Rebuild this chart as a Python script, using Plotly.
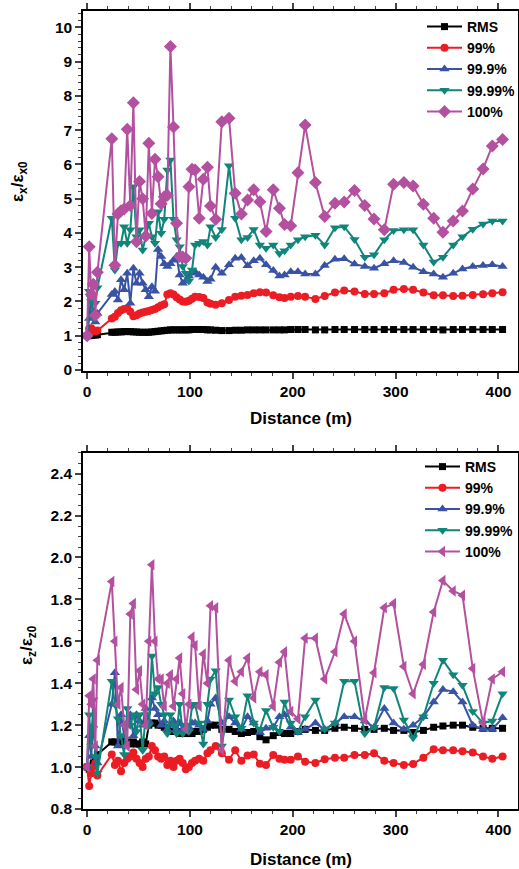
import plotly.graph_objects as go

# ---------------- data ----------------
DISTANCE = [0, 2, 4, 6, 8, 10,
            24, 27, 30, 33, 36, 39, 42, 45, 48, 51, 54, 57, 60, 63, 66, 69, 72, 75, 78, 81, 84, 87, 90, 93, 96, 99, 102,
            105, 109, 113, 117, 120, 125, 131, 138, 144, 150, 156, 162, 168, 174, 181, 187, 192, 198, 205,
            212, 222, 231, 241, 250, 260, 270, 279, 289, 298, 308, 317, 327, 337, 346, 356, 365, 375, 385, 394, 404]

SERIES_NAMES = ["RMS", "99%", "99.9%", "99.99%", "100%"]

# horizontal emittance growth  eps_x / eps_x0
EX_RMS = [1.00, 1.00, 1.01, 1.02, 1.02, 1.03,
          1.10, 1.10, 1.11, 1.11, 1.12, 1.12, 1.12, 1.11, 1.11, 1.10, 1.10, 1.10, 1.10, 1.11, 1.12, 1.13, 1.14, 1.15, 1.16, 1.17, 1.17, 1.17, 1.17, 1.17, 1.17, 1.17, 1.18,
          1.18, 1.18, 1.18, 1.17, 1.17, 1.16, 1.15, 1.15, 1.16, 1.16, 1.17, 1.17, 1.17, 1.17, 1.17, 1.17, 1.17, 1.18, 1.18,
          1.18, 1.17, 1.17, 1.18, 1.18, 1.18, 1.18, 1.18, 1.18, 1.18, 1.18, 1.18, 1.18, 1.18, 1.17, 1.18, 1.18, 1.18, 1.18, 1.18, 1.18]
EX_P99 = [1.00, 1.20, 1.22, 1.15, 1.12, 1.15,
          1.50, 1.55, 1.66, 1.74, 1.78, 1.80, 1.70, 1.57, 1.60, 1.65, 1.68, 1.70, 1.72, 1.75, 1.78, 1.83, 1.88, 1.92, 2.20, 2.24, 2.20, 2.12, 2.06, 2.00, 1.99, 2.02, 2.08,
          2.14, 2.13, 2.10, 1.97, 1.93, 1.90, 1.95, 2.04, 2.14, 2.17, 2.19, 2.24, 2.27, 2.26, 2.18, 2.12, 2.10, 2.14, 2.16,
          2.14, 2.07, 2.16, 2.26, 2.32, 2.29, 2.22, 2.22, 2.24, 2.34, 2.36, 2.34, 2.26, 2.18, 2.18, 2.16, 2.17, 2.19, 2.21, 2.24, 2.27]
EX_P999 = [1.00, 1.50, 2.20, 1.70, 1.40, 1.65,
           2.20, 2.29, 2.04, 2.63, 2.34, 2.82, 1.95, 2.97, 2.53, 2.82, 2.53, 2.34, 2.14, 2.43, 2.30, 3.52, 3.31, 3.10, 3.02, 3.10, 3.20, 3.31, 2.77, 2.53, 2.60, 2.74, 2.82,
           2.87, 2.77, 2.71, 2.58, 2.65, 3.00, 2.82, 3.07, 3.26, 3.28, 3.04, 3.19, 3.26, 3.07, 2.90, 2.74, 2.77, 2.87, 2.87,
           2.80, 2.80, 3.05, 3.23, 3.25, 3.09, 3.02, 2.97, 3.10, 3.19, 3.14, 3.00, 2.87, 2.80, 2.71, 2.82, 2.95, 3.02, 3.05, 3.07, 3.02]
EX_P9999 = [1.00, 2.30, 2.00, 1.50, 1.95, 2.40,
            4.43, 2.92, 3.70, 3.70, 4.18, 3.70, 4.09, 5.35, 3.89, 4.09, 3.50, 3.89, 4.28, 3.89, 3.70, 4.62, 3.99, 4.40, 5.84, 6.13, 4.40, 3.80, 3.60, 3.02, 2.82, 2.60, 2.92,
            3.65, 3.70, 3.75, 3.65, 4.18, 3.87, 4.10, 5.96, 4.43, 3.80, 3.87, 4.10, 3.65, 3.55, 3.65, 3.40, 3.48, 3.65, 3.80,
            3.89, 3.93, 3.65, 4.15, 4.18, 3.81, 3.29, 3.36, 3.80, 4.07, 4.09, 4.09, 3.65, 3.15, 3.29, 3.65, 3.89, 4.11, 4.26, 4.35, 4.35]
EX_P100 = [1.00, 3.60, 2.20, 2.50, 1.60, 2.85,
           6.75, 3.06, 4.55, 4.65, 4.70, 7.03, 4.80, 7.80, 3.74, 5.50, 5.00, 3.91, 6.62, 4.57, 6.15, 5.64, 4.85, 5.06, 5.10, 9.44, 7.09, 4.28, 3.31, 3.30, 3.26, 5.35, 5.86,
           5.84, 4.43, 5.57, 5.92, 4.79, 4.40, 7.25, 7.35, 5.16, 4.55, 4.96, 5.26, 4.91, 4.04, 5.26, 4.72, 4.25, 4.21, 5.76,
           7.15, 5.47, 4.48, 4.87, 4.90, 5.24, 4.80, 4.41, 4.09, 5.42, 5.47, 5.37, 4.84, 4.43, 4.02, 4.35, 4.64, 5.28, 5.87, 6.54, 6.73]

# longitudinal emittance growth  eps_z / eps_z0
EZ_RMS = [1.00, 0.99, 1.00, 1.02, 1.04, 1.06,
          1.12, 1.12, 1.11, 1.12, 1.13, 1.12, 1.11, 1.12, 1.11, 1.11, 1.12, 1.11, 1.20, 1.21, 1.21, 1.20, 1.20, 1.19, 1.18, 1.17, 1.17, 1.17, 1.16, 1.17, 1.16, 1.16, 1.16,
          1.17, 1.17, 1.18, 1.19, 1.20, 1.20, 1.18, 1.18, 1.17, 1.16, 1.165, 1.17, 1.145, 1.13, 1.15, 1.165, 1.16, 1.16, 1.17,
          1.18, 1.175, 1.175, 1.185, 1.19, 1.185, 1.18, 1.18, 1.185, 1.175, 1.175, 1.165, 1.175, 1.19, 1.196, 1.20, 1.20, 1.19, 1.185, 1.185, 1.185]
EZ_P99 = [1.00, 0.91, 0.97, 1.00, 1.02, 0.96,
          1.06, 1.01, 1.03, 0.98, 1.02, 1.04, 1.05, 1.07, 1.04, 1.02, 1.00, 1.04, 1.05, 1.10, 1.08, 1.05, 1.04, 1.05, 1.01, 1.03, 1.00, 1.03, 1.04, 1.02, 0.99, 1.00, 1.02,
          1.03, 1.04, 1.03, 1.066, 1.08, 1.10, 1.066, 1.035, 1.08, 1.03, 1.055, 1.06, 1.016, 1.01, 1.058, 1.04, 1.035, 1.035, 1.05,
          1.026, 1.02, 1.037, 1.045, 1.045, 1.058, 1.058, 1.066, 1.03, 1.02, 1.01, 1.015, 1.045, 1.085, 1.08, 1.08, 1.075, 1.07, 1.05, 1.04, 1.05]
EZ_P999 = [1.00, 1.15, 1.05, 1.20, 1.10, 1.02,
           1.30, 1.45, 1.10, 1.25, 1.15, 1.20, 1.25, 1.15, 1.25, 1.22, 1.20, 1.28, 1.22, 1.33, 1.28, 1.25, 1.20, 1.22, 1.18, 1.20, 1.22, 1.18, 1.21, 1.18, 1.20, 1.19, 1.21,
           1.21, 1.20, 1.18, 1.22, 1.30, 1.33, 1.21, 1.24, 1.21, 1.18, 1.24, 1.21, 1.165, 1.185, 1.19, 1.24, 1.25, 1.19, 1.165,
           1.18, 1.21, 1.18, 1.21, 1.24, 1.24, 1.22, 1.19, 1.28, 1.21, 1.18, 1.20, 1.24, 1.31, 1.37, 1.36, 1.31, 1.20, 1.18, 1.18, 1.235]
EZ_P9999 = [1.00, 1.25, 1.10, 1.32, 1.05, 0.97,
            1.41, 1.30, 1.23, 1.15, 1.06, 1.28, 1.20, 1.25, 1.17, 1.25, 1.08, 1.25, 1.20, 1.53, 1.35, 1.38, 1.30, 1.25, 1.16, 1.25, 1.20, 1.16, 1.30, 1.16, 1.20, 1.17, 1.29,
            1.30, 1.21, 1.11, 1.30, 1.42, 1.46, 1.10, 1.32, 1.24, 1.185, 1.34, 1.21, 1.18, 1.27, 1.19, 1.17, 1.31, 1.21, 1.17,
            1.24, 1.32, 1.18, 1.21, 1.41, 1.41, 1.16, 1.19, 1.38, 1.375, 1.225, 1.14, 1.24, 1.40, 1.51, 1.44, 1.39, 1.265, 1.21, 1.22, 1.35]
EZ_P100 = [1.00, 1.34, 1.30, 1.42, 1.10, 1.51,
           1.885, 1.60, 1.30, 1.38, 1.20, 1.10, 1.73, 1.78, 1.37, 1.46, 1.30, 1.20, 1.60, 1.965, 1.60, 1.42, 1.42, 1.29, 1.40, 1.44, 1.29, 1.42, 1.52, 1.35, 1.18, 1.30, 1.62,
           1.58, 1.29, 1.54, 1.40, 1.77, 1.76, 1.08, 1.51, 1.41, 1.455, 1.52, 1.33, 1.455, 1.44, 1.29, 1.50, 1.55, 1.265, 1.23,
           1.615, 1.615, 1.42, 1.55, 1.73, 1.60, 1.225, 1.45, 1.76, 1.78, 1.48, 1.35, 1.49, 1.74, 1.89, 1.84, 1.82, 1.47, 1.21, 1.42, 1.455]

X_TICKS = [0, 100, 200, 300, 400]

# ---------------- styles ----------------
COLORS = ["#000000", "#EC1C24", "#3953A4", "#10857A", "#B3509F"]
SYMBOLS_TOP = ["square", "circle", "triangle-up", "triangle-down", "diamond"]
SYMBOLS_BOT = ["square", "circle", "triangle-up", "triangle-down", "triangle-left"]
SIZES = [7, 8, 9, 9, 10]
FONT = "Liberation Sans, Arial, sans-serif"

W, H = 519, 869
ML, MR, MT, MB = 83, 1, 11, 60

fig = go.Figure()

top_vals = [EX_RMS, EX_P99, EX_P999, EX_P9999, EX_P100]
bot_vals = [EZ_RMS, EZ_P99, EZ_P999, EZ_P9999, EZ_P100]

for i, (name, vals) in enumerate(zip(SERIES_NAMES, top_vals)):
    fig.add_trace(go.Scatter(
        x=DISTANCE, y=vals, name=name, mode="lines+markers",
        line=dict(color=COLORS[i], width=2),
        marker=dict(symbol=SYMBOLS_TOP[i], size=SIZES[i], color=COLORS[i], line=dict(width=0)),
        xaxis="x", yaxis="y", legend="legend"))

for i, (name, vals) in enumerate(zip(SERIES_NAMES, bot_vals)):
    fig.add_trace(go.Scatter(
        x=DISTANCE, y=vals, name=name, mode="lines+markers",
        line=dict(color=COLORS[i], width=2),
        marker=dict(symbol=SYMBOLS_BOT[i], size=SIZES[i], color=COLORS[i], line=dict(width=0)),
        xaxis="x2", yaxis="y2", legend="legend2"))

tickfont = dict(family=FONT, size=15.5, color="black", weight="bold")

def xax(anchor):
    return dict(domain=[0, 1], anchor=anchor, range=[-4, 419], automargin=False,
                tickvals=X_TICKS, ticks="outside", ticklen=6, tickwidth=1.5,
                minor=dict(dtick=20, tick0=0, ticks="outside", ticklen=3, tickwidth=1.2),
                showline=True, linewidth=1.5, linecolor="black", mirror="ticks",
                showgrid=False, zeroline=False, tickfont=tickfont)

legend_font = dict(family=FONT, size=14, color="black", weight="bold")

fig.update_layout(
    width=W, height=H,
    margin=dict(l=ML, r=MR, t=MT, b=MB, autoexpand=False),
    paper_bgcolor="white", plot_bgcolor="white",
    font=dict(family=FONT, color="black"),
    xaxis=xax("y"),
    xaxis2=xax("y2"),
    yaxis=dict(domain=[0.5489, 1.0], anchor="x", range=[-0.03, 10.48], automargin=False,
               tick0=0, dtick=1, ticks="outside", ticklen=6, tickwidth=1.5,
               minor=dict(dtick=0.2, ticks="outside", ticklen=3, tickwidth=1.2),
               showline=True, linewidth=1.5, linecolor="black", mirror="ticks",
               showgrid=False, zeroline=False, tickfont=tickfont),
    yaxis2=dict(domain=[0.0, 0.4465], anchor="x2", range=[0.8, 2.5], automargin=False,
                tick0=0.8, dtick=0.2, tickformat=".1f", ticks="outside", ticklen=6, tickwidth=1.5,
                minor=dict(dtick=0.05, ticks="outside", ticklen=3, tickwidth=1.2),
                showline=True, linewidth=1.5, linecolor="black", mirror="ticks",
                showgrid=False, zeroline=False, tickfont=tickfont),
    legend=dict(x=(ML + 339) / W, y=1 - 11 / H, xref="container", yref="container",
                xanchor="left", yanchor="top",
                bgcolor="rgba(0,0,0,0)", borderwidth=0, itemwidth=35,
                tracegroupgap=0, font=legend_font),
    legend2=dict(x=(ML + 337) / W, y=1 - 451 / H, xref="container", yref="container",
                 xanchor="left", yanchor="top",
                 bgcolor="rgba(0,0,0,0)", borderwidth=0, itemwidth=35,
                 tracegroupgap=0, font=legend_font),
    showlegend=True,
)

PH = H - MT - MB
PW = W - ML - MR
title_font = dict(family=FONT, size=17, color="black", weight="bold")
annotations = [
    dict(text="Distance (m)", xref="paper", yref="paper", x=0.5,
         y=(H - MB - 418) / PH, xanchor="center", yanchor="middle", showarrow=False, font=title_font),
    dict(text="Distance (m)", xref="paper", yref="paper", x=0.5,
         y=(H - MB - 859) / PH, xanchor="center", yanchor="middle", showarrow=False, font=title_font),
    dict(text="ε<sub>x</sub>/ε<sub>x0</sub>", xref="paper", yref="paper", x=(19 - ML) / PW,
         y=(H - MB - 182) / PH, xanchor="center", yanchor="middle", textangle=-90, showarrow=False, font=title_font),
    dict(text="ε<sub>z</sub>/ε<sub>z0</sub>", xref="paper", yref="paper", x=(28 - ML) / PW,
         y=(H - MB - 645) / PH, xanchor="center", yanchor="middle", textangle=-90, showarrow=False, font=title_font),
]
fig.update_layout(annotations=annotations)

fig.write_html("out.html", config={"displayModeBar": False},
               post_script="document.body.style.margin='0';document.body.style.padding='0';document.body.style.overflow='hidden';")
